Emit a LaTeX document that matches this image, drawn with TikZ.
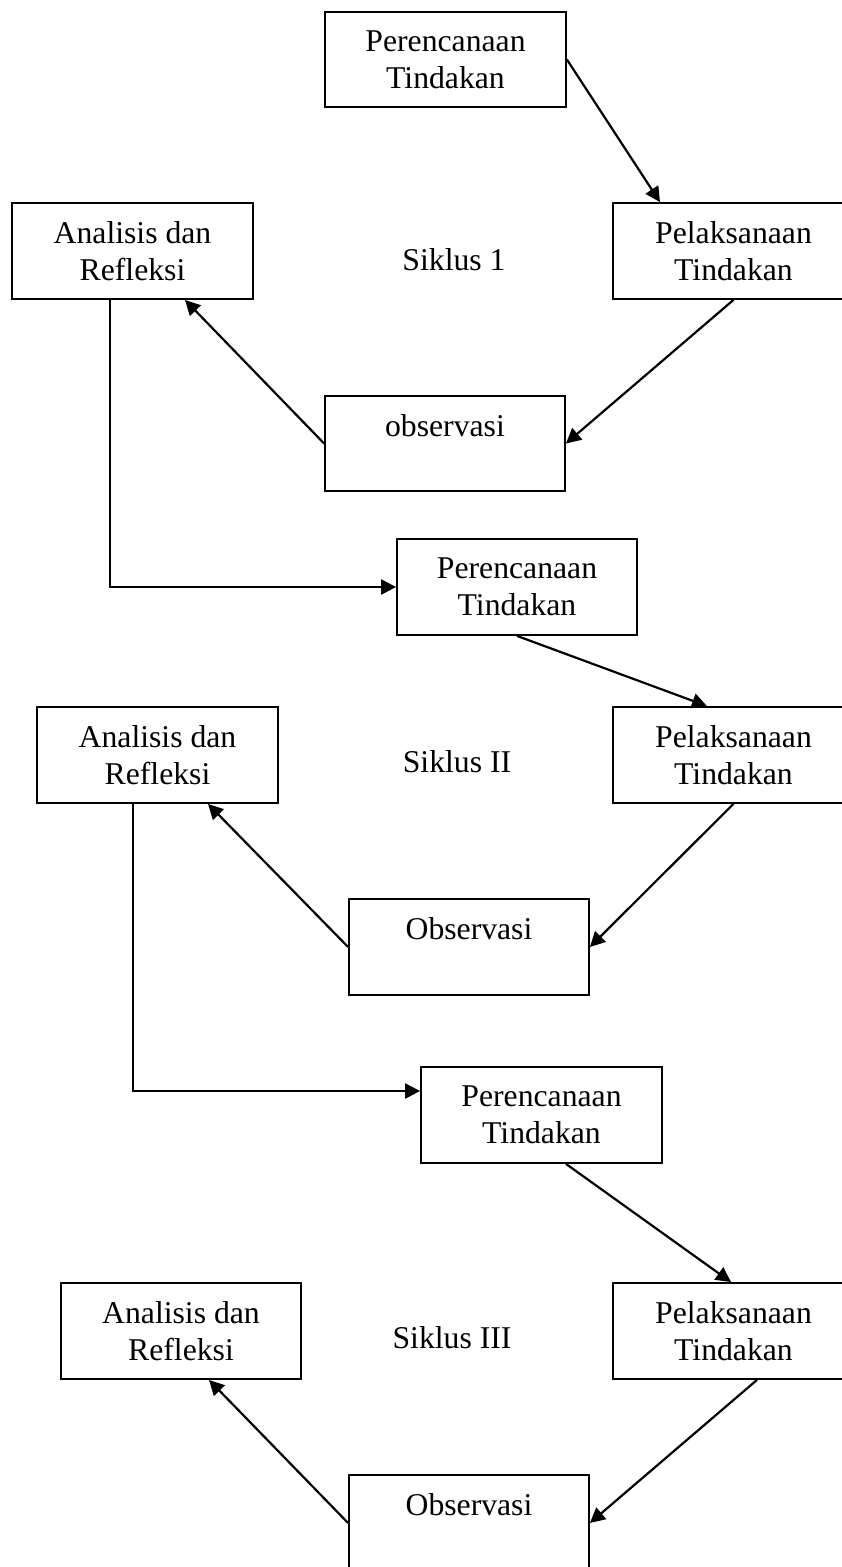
\documentclass[tikz,border=0pt]{standalone}
\usepackage{fontspec}
\setmainfont{Liberation Serif}
\usetikzlibrary{arrows.meta,calc}
\begin{document}
\begin{tikzpicture}[x=1pt,y=-1pt,
  txt/.style={font=\fontsize{31.7pt}{37pt}\selectfont, align=center, inner sep=0pt},
  box/.style={txt, draw, line width=1.8pt, minimum width=241pt, minimum height=96pt},
  arr/.style={line width=2.2pt, -{Triangle[length=15pt,width=15pt]}}]
\useasboundingbox (0,0) rectangle (842,1567);
\fill[white] (0,0) rectangle (842,1567);
\clip (0,0) rectangle (842,1567);
% Siklus 1
\node[box, minimum height=95pt] (P1) at (445.5,59.5) {Perencanaan\\Tindakan};
\node[box] (L1) at (733.5,251) {Pelaksanaan\\Tindakan};
\node[box] (A1) at (132.5,251) {Analisis dan\\Refleksi};
\node[box, minimum width=240pt, minimum height=95pt] (O1) at (445,443.5) {observasi\\\mbox{}};
\node[txt] (S1) at (454,260) {Siklus 1};
% Siklus II
\node[box, minimum width=240pt] (P2) at (517,587) {Perencanaan\\Tindakan};
\node[box] (L2) at (733.5,755) {Pelaksanaan\\Tindakan};
\node[box] (A2) at (157.5,755) {Analisis dan\\Refleksi};
\node[box, minimum width=240pt] (O2) at (469,947) {Observasi\\\mbox{}};
\node[txt] (S2) at (457,762) {Siklus II};
% Siklus III
\node[box] (P3) at (541.5,1115) {Perencanaan\\Tindakan};
\node[box] (L3) at (733.5,1331) {Pelaksanaan\\Tindakan};
\node[box, minimum width=240pt] (A3) at (181,1331) {Analisis dan\\Refleksi};
\node[box, minimum width=240pt] (O3) at (469,1523) {Observasi\\\mbox{}};
\node[txt] (S3) at (452,1338) {Siklus III};
% connectors
\draw[arr] (P1.east) -- ($(L1.north)+(-73.5,0)$);
\draw[arr] (L1.south) -- (O1.east);
\draw[arr] (O1.west) -- ($(A1.south)+(52.5,0)$);
\draw[arr] ($(A1.south)+(-22.5,0)$) |- (P2.west);
\draw[arr] (P2.south) -- ($(L2.north)+(-26.5,0)$);
\draw[arr] (L2.south) -- (O2.east);
\draw[arr] (O2.west) -- ($(A2.south)+(50.5,0)$);
\draw[arr] ($(A2.south)+(-24.5,0)$) |- ($(P3.west)+(0,-24)$);
\draw[arr] ($(P3.south)+(24.5,0)$) -- ($(L3.north)+(-2.5,0)$);
\draw[arr] ($(L3.south)+(23.5,0)$) -- (O3.east);
\draw[arr] (O3.west) -- ($(A3.south)+(28,0)$);
\end{tikzpicture}
\end{document}
